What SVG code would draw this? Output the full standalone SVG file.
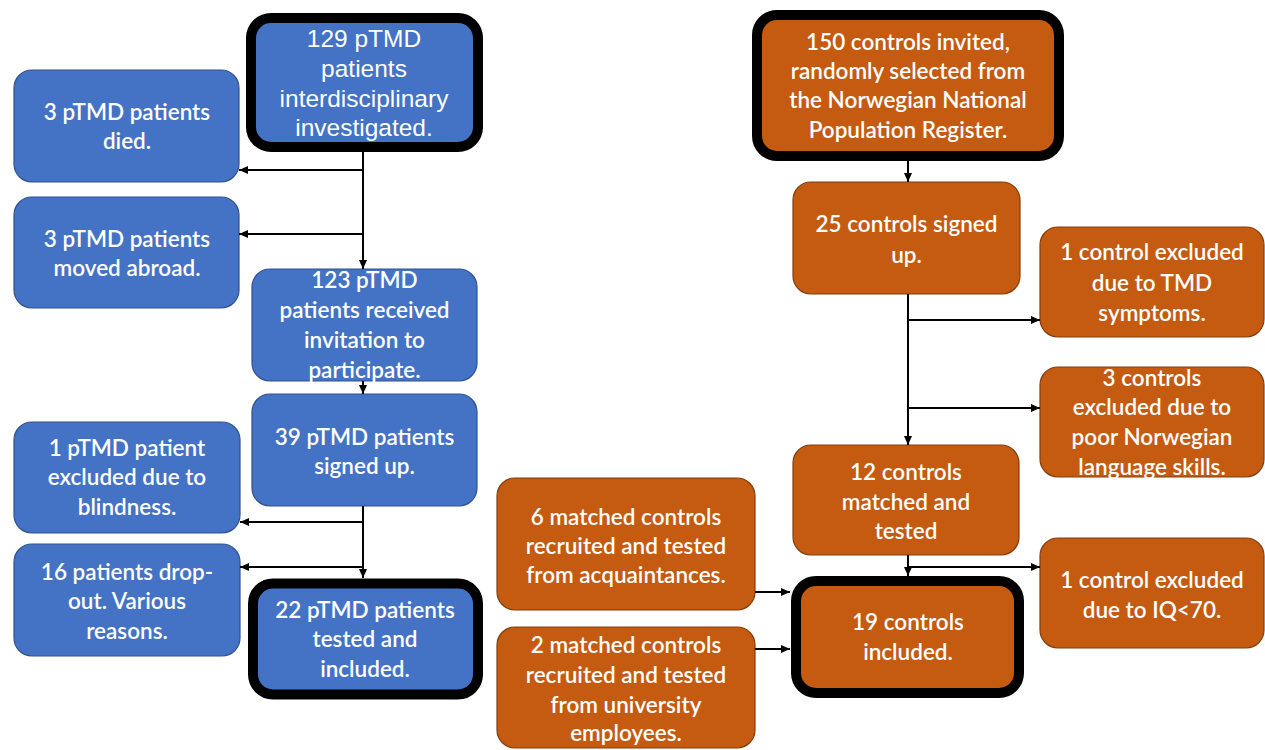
<svg xmlns="http://www.w3.org/2000/svg" width="1265" height="750" viewBox="0 0 1265 750">
<defs>
<marker id="ah" markerUnits="userSpaceOnUse" markerWidth="10" markerHeight="10" refX="9" refY="5" orient="auto">
<path d="M0,1 L9,5 L0,9 Z" fill="#000"/>
</marker>
<style>
.b{fill:#4472C4;stroke:#2F528F;stroke-width:1.2}
.o{fill:#C55A11;stroke:#843C0C;stroke-width:1.2}
.bk{stroke:#000;stroke-width:10}
text{fill:#fff;font-family:Lato,"Open Sans",sans-serif;font-size:22.5px;font-weight:600;text-anchor:middle}
.h{font-family:"Liberation Sans",Arial,sans-serif;font-size:24.5px;font-weight:400}
.c line{stroke:#000;stroke-width:2;marker-end:url(#ah)}
</style>
</defs>
<rect width="1265" height="750" fill="#fff"/>

<g id="n129">
<rect class="b bk" x="251" y="18" width="227" height="129" rx="20"/>
<text class="h"><tspan x="364" y="47">129 pTMD</tspan><tspan x="364" y="77">patients</tspan><tspan x="364" y="107">interdisciplinary</tspan><tspan x="364" y="136">investigated.</tspan></text>
</g>
<g id="died">
<rect class="b" x="14" y="70" width="225" height="112" rx="18"/>
<text><tspan x="127" y="120">3 pTMD patients</tspan><tspan x="127" y="149">died.</tspan></text>
</g>
<g id="abroad">
<rect class="b" x="14" y="197" width="225" height="111" rx="18"/>
<text><tspan x="127" y="247">3 pTMD patients</tspan><tspan x="127" y="276">moved abroad.</tspan></text>
</g>
<g id="n123">
<rect class="b" x="252" y="269" width="225" height="112" rx="18"/>
<text><tspan x="364.5" y="288">123 pTMD</tspan><tspan x="364.5" y="318">patients received</tspan><tspan x="364.5" y="348">invitation to</tspan><tspan x="364.5" y="378">participate.</tspan></text>
</g>
<g id="n39">
<rect class="b" x="252" y="394" width="225" height="112" rx="18"/>
<text><tspan x="364.5" y="445">39 pTMD patients</tspan><tspan x="364.5" y="474">signed up.</tspan></text>
</g>
<g id="blind">
<rect class="b" x="14" y="422" width="226" height="111" rx="18"/>
<text><tspan x="127" y="456">1 pTMD patient</tspan><tspan x="127" y="485">excluded due to</tspan><tspan x="127" y="515">blindness.</tspan></text>
</g>
<g id="drop">
<rect class="b" x="14" y="544" width="226" height="112" rx="18"/>
<text><tspan x="127" y="580">16 patients drop-</tspan><tspan x="127" y="609">out. Various</tspan><tspan x="127" y="639">reasons.</tspan></text>
</g>
<g id="n22">
<rect class="b bk" x="253" y="583.5" width="225" height="111" rx="20"/>
<text><tspan x="365" y="618">22 pTMD patients</tspan><tspan x="365" y="647">tested and</tspan><tspan x="365" y="677">included.</tspan></text>
</g>

<g id="c150">
<rect class="o bk" x="757" y="15" width="302" height="141" rx="20"/>
<text><tspan x="908" y="50">150 controls invited,</tspan><tspan x="908" y="79">randomly selected from</tspan><tspan x="908" y="108">the Norwegian National</tspan><tspan x="908" y="138">Population Register.</tspan></text>
</g>
<g id="c25">
<rect class="o" x="793" y="182" width="227" height="112" rx="18"/>
<text><tspan x="906.5" y="232">25 controls signed</tspan><tspan x="906.5" y="263">up.</tspan></text>
</g>
<g id="ctmd">
<rect class="o" x="1040" y="227" width="224" height="110" rx="18"/>
<text><tspan x="1152" y="260">1 control excluded</tspan><tspan x="1152" y="291">due to TMD</tspan><tspan x="1152" y="321">symptoms.</tspan></text>
</g>
<g id="clang">
<rect class="o" x="1040" y="367" width="224" height="110" rx="18"/>
<text><tspan x="1152" y="386">3 controls</tspan><tspan x="1152" y="415">excluded due to</tspan><tspan x="1152" y="445">poor Norwegian</tspan><tspan x="1152" y="475">language skills.</tspan></text>
</g>
<g id="c12">
<rect class="o" x="793" y="445" width="226" height="110" rx="18"/>
<text><tspan x="906" y="480">12 controls</tspan><tspan x="906" y="510">matched and</tspan><tspan x="906" y="539">tested</tspan></text>
</g>
<g id="c6">
<rect class="o" x="497" y="478" width="258" height="132" rx="18"/>
<text><tspan x="626" y="525">6 matched controls</tspan><tspan x="626" y="554">recruited and tested</tspan><tspan x="626" y="583">from acquaintances.</tspan></text>
</g>
<g id="c2">
<rect class="o" x="497" y="627" width="258" height="121" rx="18"/>
<text><tspan x="626" y="653">2 matched controls</tspan><tspan x="626" y="683">recruited and tested</tspan><tspan x="626" y="713">from university</tspan><tspan x="626" y="741">employees.</tspan></text>
</g>
<g id="c19">
<rect class="o bk" x="796" y="581" width="223" height="112" rx="20"/>
<text><tspan x="908" y="630">19 controls</tspan><tspan x="908" y="660">included.</tspan></text>
</g>
<g id="ciq">
<rect class="o" x="1040" y="538" width="224" height="110" rx="18"/>
<text><tspan x="1152" y="588">1 control excluded</tspan><tspan x="1152" y="618">due to IQ&lt;70.</tspan></text>
</g>

<g id="connectors" class="c">
<line x1="363" y1="152" x2="363" y2="269"/>
<line x1="363" y1="170" x2="239" y2="170"/>
<line x1="363" y1="234" x2="239" y2="234"/>
<line x1="363" y1="381" x2="363" y2="394"/>
<line x1="363" y1="506" x2="363" y2="578"/>
<line x1="363" y1="522" x2="240" y2="522"/>
<line x1="363" y1="567" x2="240" y2="567"/>
<line x1="908" y1="161" x2="908" y2="182"/>
<line x1="908" y1="294" x2="908" y2="445"/>
<line x1="908" y1="320" x2="1040" y2="320"/>
<line x1="908" y1="408" x2="1040" y2="408"/>
<line x1="908" y1="555" x2="908" y2="576"/>
<line x1="908" y1="567" x2="1040" y2="567"/>
<line x1="755" y1="592" x2="790" y2="592"/>
<line x1="755" y1="649" x2="790" y2="649"/>
</g>
</svg>
